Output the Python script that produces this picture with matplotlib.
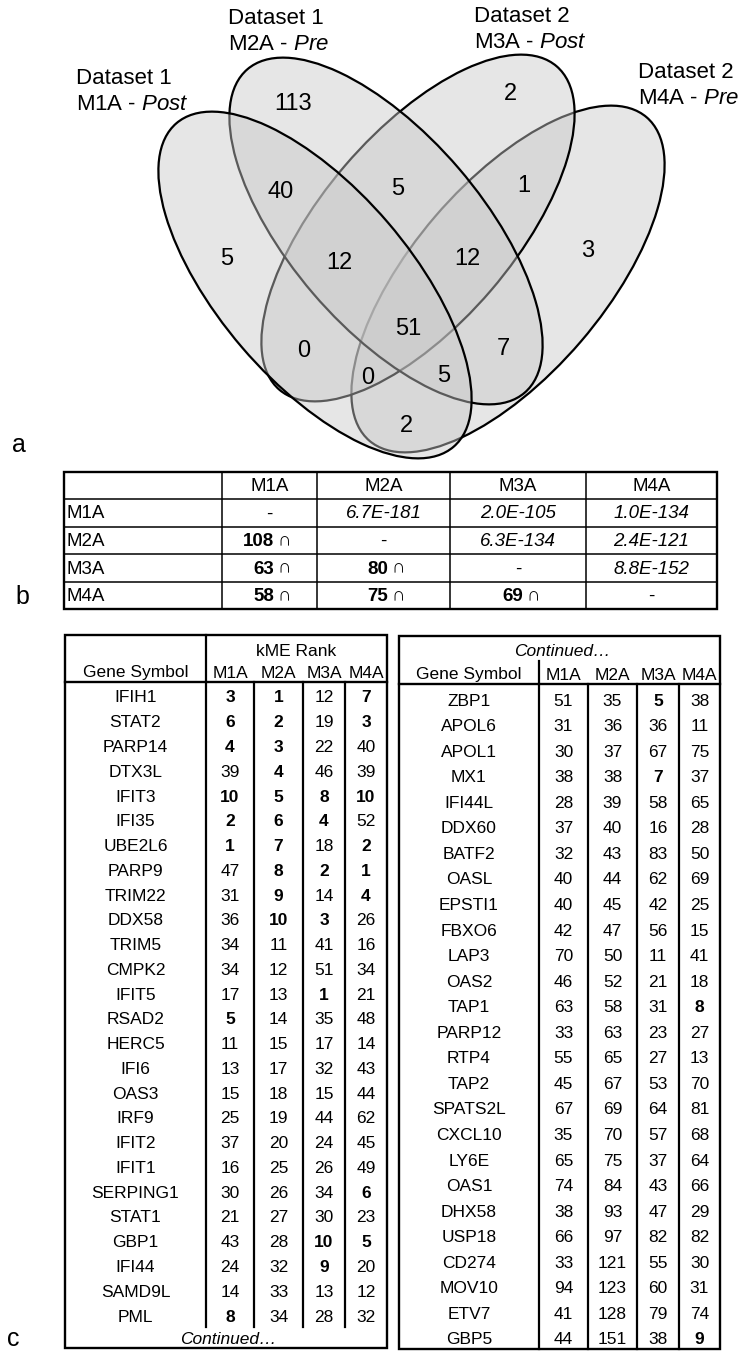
import matplotlib
matplotlib.use('Agg')
import matplotlib.pyplot as plt
from matplotlib.patches import Ellipse, Rectangle

plt.rcParams['font.family'] = ['Liberation Sans', 'DejaVu Sans']
plt.rcParams['mathtext.fontset'] = 'custom'
plt.rcParams['mathtext.rm'] = 'Liberation Sans'
plt.rcParams['mathtext.it'] = 'Liberation Sans:italic'
plt.rcParams['mathtext.bf'] = 'Liberation Sans:bold'

# ---- datos (a) Venn
venn_sets = ['M1A', 'M2A', 'M3A', 'M4A']
venn_datasets = ['Dataset 1', 'Dataset 1', 'Dataset 2', 'Dataset 2']
venn_timing = ['Post', 'Pre', 'Post', 'Pre']
venn_counts = [113, 2, 40, 5, 1, 5, 12, 12, 3, 51, 0, 7, 0, 5, 2]

# ---- datos (b) solapamiento entre modulos
modules = ['M1A', 'M2A', 'M3A', 'M4A']
overlap_pvals = [['6.7E-181', '2.0E-105', '1.0E-134'],
                 ['6.3E-134', '2.4E-121'],
                 ['8.8E-152']]
overlap_counts = [[108], [63, 80], [58, 75, 69]]

# ---- datos (c) kME rank
genes_left = ['IFIH1', 'STAT2', 'PARP14', 'DTX3L', 'IFIT3', 'IFI35', 'UBE2L6', 'PARP9',
              'TRIM22', 'DDX58', 'TRIM5', 'CMPK2', 'IFIT5', 'RSAD2', 'HERC5', 'IFI6',
              'OAS3', 'IRF9', 'IFIT2', 'IFIT1', 'SERPING1', 'STAT1', 'GBP1', 'IFI44',
              'SAMD9L', 'PML']
m1a_left = [3, 6, 4, 39, 10, 2, 1, 47, 31, 36, 34, 34, 17, 5, 11, 13, 15, 25, 37, 16, 30, 21, 43, 24, 14, 8]
m2a_left = [1, 2, 3, 4, 5, 6, 7, 8, 9, 10, 11, 12, 13, 14, 15, 17, 18, 19, 20, 25, 26, 27, 28, 32, 33, 34]
m3a_left = [12, 19, 22, 46, 8, 4, 18, 2, 14, 3, 41, 51, 1, 35, 17, 32, 15, 44, 24, 26, 34, 30, 10, 9, 13, 28]
m4a_left = [7, 3, 40, 39, 10, 52, 2, 1, 4, 26, 16, 34, 21, 48, 14, 43, 44, 62, 45, 49, 6, 23, 5, 20, 12, 32]

genes_right = ['ZBP1', 'APOL6', 'APOL1', 'MX1', 'IFI44L', 'DDX60', 'BATF2', 'OASL', 'EPSTI1',
               'FBXO6', 'LAP3', 'OAS2', 'TAP1', 'PARP12', 'RTP4', 'TAP2', 'SPATS2L', 'CXCL10',
               'LY6E', 'OAS1', 'DHX58', 'USP18', 'CD274', 'MOV10', 'ETV7', 'GBP5']
m1a_right = [51, 31, 30, 38, 28, 37, 32, 40, 40, 42, 70, 46, 63, 33, 55, 45, 67, 35, 65, 74, 38, 66, 33, 94, 41, 44]
m2a_right = [35, 36, 37, 38, 39, 40, 43, 44, 45, 47, 50, 52, 58, 63, 65, 67, 69, 70, 75, 84, 93, 97, 121, 123, 128, 151]
m3a_right = [5, 36, 67, 7, 58, 16, 83, 62, 42, 56, 11, 21, 31, 23, 27, 53, 64, 57, 37, 43, 47, 82, 55, 60, 79, 38]
m4a_right = [38, 11, 75, 37, 65, 28, 50, 69, 25, 15, 41, 18, 8, 27, 13, 70, 81, 68, 64, 66, 29, 82, 30, 31, 74, 9]

fig = plt.figure(figsize=(7.42, 13.51), dpi=100)
ax = fig.add_axes([0, 0, 1, 1])
ax.set_xlim(0, 742)
ax.set_ylim(1351, 0)
ax.axis('off')

# ================= a) Venn
ell_centers = [(315, 285), (386, 231), (418, 228), (508, 279)]
ell_angles = [49.4, 49.4, -49.4, -49.4]
label_pos = [(76, 79), (228, 19), (474, 17), (638, 73)]
count_pos = [(293, 103), (510, 93), (281, 191), (398, 188), (524, 185), (227, 258),
             (339, 262), (467, 258), (588, 250), (408, 328), (304, 350), (503, 348),
             (368, 377), (444, 375), (406, 425)]

for i in [3, 2, 1, 0]:  # M1A encima de todo
    ax.add_patch(Ellipse(ell_centers[i], 426, 192, angle=ell_angles[i],
                         facecolor=(0.79, 0.79, 0.79, 0.45), edgecolor='black', lw=1.6))

for i in range(4):
    x, y = label_pos[i]
    ax.text(x, y, venn_datasets[i], fontsize=16, ha='left', va='center')
    ax.text(x, y + 25, venn_sets[i] + ' - $\\mathit{' + venn_timing[i] + '}$',
            fontsize=16, ha='left', va='center')

for n, (x, y) in zip(venn_counts, count_pos):
    ax.text(x, y + 1, str(n), fontsize=17, ha='center', va='center')

ax.text(19, 445, 'a', fontsize=18, ha='center', va='center')

# ================= b) tabla
b_cols = [64, 222, 317, 450, 586, 717]
b_rows = [472, 499, 527, 554, 582, 609]
for y in b_rows[1:-1]:
    ax.plot([b_cols[0], b_cols[-1]], [y, y], color='black', lw=1.1)
for x in b_cols[1:-1]:
    ax.plot([x, x], [b_rows[0], b_rows[-1]], color='black', lw=1.1)
ax.add_patch(Rectangle((b_cols[0], b_rows[0]), b_cols[-1] - b_cols[0], b_rows[-1] - b_rows[0],
                       fill=False, edgecolor='black', lw=1.7))

bx = [(b_cols[k] + b_cols[k + 1]) / 2 for k in range(1, 5)]
by = [(b_rows[k] + b_rows[k + 1]) / 2 for k in range(5)]
for j, m in enumerate(modules):
    ax.text(bx[j], by[0] + 1, m, fontsize=13.5, ha='center', va='center')
for i, m in enumerate(modules):
    yy = by[i + 1] + 1
    ax.text(b_cols[0] + 3, yy, m, fontsize=13.5, ha='left', va='center')
    for j in range(4):
        if i == j:
            ax.text(bx[j], yy, '-', fontsize=13.5, ha='center', va='center')
        elif j > i:
            ax.text(bx[j], yy, overlap_pvals[i][j - i - 1], fontsize=13.5, style='italic',
                    ha='center', va='center')
        else:
            ax.text(bx[j] + 5, yy, str(overlap_counts[i - 1][j]), fontsize=13.5,
                    fontweight='bold', ha='right', va='center')
            ax.text(bx[j] + 8, yy, '\u2229', fontsize=13.5, ha='left', va='center')

ax.text(22, 597, 'b', fontsize=18, ha='center', va='center')


# ================= c) tablas kME
def kme_table(cols, top, head_bot, body_end, bottom, genes, ranks, y0, step, header_top):
    ax.add_patch(Rectangle((cols[0], top), cols[-1] - cols[0], bottom - top,
                           fill=False, edgecolor='black', lw=1.7))
    ax.plot([cols[0], cols[-1]], [head_bot, head_bot], color='black', lw=1.7)
    for x in cols[1:-1]:
        ax.plot([x, x], [head_bot, body_end], color='black', lw=1.6)
    ax.plot([cols[1], cols[1]], [header_top, head_bot], color='black', lw=1.6)
    cx = [(cols[k] + cols[k + 1]) / 2 for k in range(5)]
    ax.text(cx[0], head_bot - 9, 'Gene Symbol', fontsize=12.5, ha='center', va='center')
    for k, m in enumerate(modules):
        ax.text(cx[k + 1], head_bot - 9, m, fontsize=12.5, ha='center', va='center')
    for r, g in enumerate(genes):
        yy = y0 + step * r
        ax.text(cx[0], yy, g, fontsize=12.5, ha='center', va='center')
        for k in range(4):
            v = ranks[k][r]
            ax.text(cx[k + 1], yy, str(v), fontsize=12.5, ha='center', va='center',
                    fontweight='bold' if v <= 10 else 'normal')
    return cx


left_cols = [65, 206, 254, 303, 345, 387]
kme_table(left_cols, 635, 682, 1327, 1348, genes_left,
          [m1a_left, m2a_left, m3a_left, m4a_left], 698, 24.76, 635)
ax.text((left_cols[1] + left_cols[-1]) / 2, 651, 'kME Rank', fontsize=12.5, ha='center', va='center')
ax.text(228, 1339, 'Continued\u2026', fontsize=12.5, style='italic', ha='center', va='center')

right_cols = [399, 539, 588, 637, 679, 720]
kme_table(right_cols, 636, 684, 1349, 1349, genes_right,
          [m1a_right, m2a_right, m3a_right, m4a_right], 701, 25.56, 661)
ax.text(562, 652, 'Continued\u2026', fontsize=12.5, style='italic', ha='center', va='center')

ax.text(13, 1339, 'c', fontsize=18, ha='center', va='center')

fig.savefig('out.png', dpi=100)
